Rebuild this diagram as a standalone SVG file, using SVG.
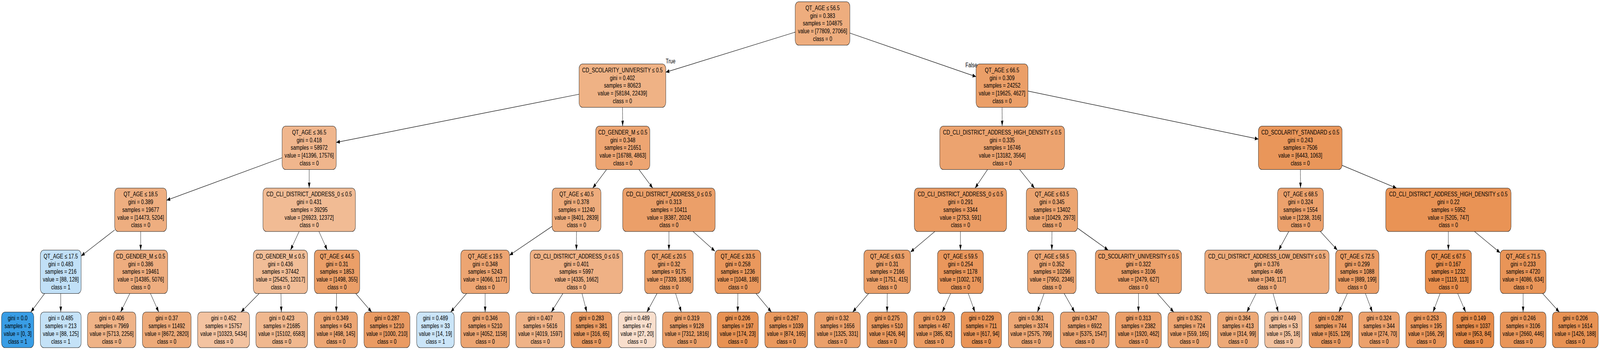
<svg xmlns="http://www.w3.org/2000/svg" width="6347" height="895" viewBox="0 0 6347 895" preserveAspectRatio="none">
<defs>
<style>
svg{width:100vw;height:100vh;display:block}
.n rect{stroke:#1a1a1a;stroke-width:1.2}
.n text,.lbl{font-family:"Liberation Sans",Arial,Helvetica,sans-serif;font-size:16.8px;fill:#000;text-anchor:middle}
#edges line{stroke:#000;stroke-width:1.2;fill:none;marker-end:url(#ah)}
</style>
<marker id="ah" markerUnits="userSpaceOnUse" markerWidth="16" markerHeight="12" refX="14" refY="5" orient="auto"><path d="M0,0 L14,5 L0,10 z" fill="#000"/></marker>
</defs>
<rect x="0" y="0" width="6347" height="895" fill="#fff"/>
<g id="nodes">
<g id="n0" class="n" transform="translate(3263,4.5)"><rect x="-108.5" y="0" width="217" height="111" rx="14" ry="12" fill="#eead7e"/><text transform="scale(1.14 1)"><tspan x="0" y="21.5">QT_AGE ≤ 56.5</tspan><tspan x="0" y="41.2">gini = 0.383</tspan><tspan x="0" y="60.9">samples = 104875</tspan><tspan x="0" y="80.6">value = [77809, 27066]</tspan><tspan x="0" y="100.3">class = 0</tspan></text></g>
<g id="n1" class="n" transform="translate(2469,163.5)"><rect x="-172" y="0" width="344" height="111" rx="14" ry="12" fill="#efb285"/><text transform="scale(1.14 1)"><tspan x="0" y="21.5">CD_SCOLARITY_UNIVERSITY ≤ 0.5</tspan><tspan x="0" y="41.2">gini = 0.402</tspan><tspan x="0" y="60.9">samples = 80623</tspan><tspan x="0" y="80.6">value = [58184, 22439]</tspan><tspan x="0" y="100.3">class = 0</tspan></text></g>
<g id="n2" class="n" transform="translate(3975,163.5)"><rect x="-103" y="0" width="206" height="111" rx="14" ry="12" fill="#eb9f68"/><text transform="scale(1.14 1)"><tspan x="0" y="21.5">QT_AGE ≤ 66.5</tspan><tspan x="0" y="41.2">gini = 0.309</tspan><tspan x="0" y="60.9">samples = 24252</tspan><tspan x="0" y="80.6">value = [19625, 4627]</tspan><tspan x="0" y="100.3">class = 0</tspan></text></g>
<g id="n3" class="n" transform="translate(1226.5,322.5)"><rect x="-107.5" y="0" width="215" height="111" rx="14" ry="12" fill="#f0b68d"/><text transform="scale(1.14 1)"><tspan x="0" y="21.5">QT_AGE ≤ 36.5</tspan><tspan x="0" y="41.2">gini = 0.418</tspan><tspan x="0" y="60.9">samples = 58972</tspan><tspan x="0" y="80.6">value = [41396, 17576]</tspan><tspan x="0" y="100.3">class = 0</tspan></text></g>
<g id="n4" class="n" transform="translate(2470.5,322.5)"><rect x="-107.5" y="0" width="215" height="111" rx="14" ry="12" fill="#eda572"/><text transform="scale(1.14 1)"><tspan x="0" y="21.5">CD_GENDER_M ≤ 0.5</tspan><tspan x="0" y="41.2">gini = 0.348</tspan><tspan x="0" y="60.9">samples = 21651</tspan><tspan x="0" y="80.6">value = [16788, 4863]</tspan><tspan x="0" y="100.3">class = 0</tspan></text></g>
<g id="n5" class="n" transform="translate(3975.5,322.5)"><rect x="-247.5" y="0" width="495" height="111" rx="14" ry="12" fill="#eca36f"/><text transform="scale(1.14 1)"><tspan x="0" y="21.5">CD_CLI_DISTRICT_ADDRESS_HIGH_DENSITY ≤ 0.5</tspan><tspan x="0" y="41.2">gini = 0.335</tspan><tspan x="0" y="60.9">samples = 16746</tspan><tspan x="0" y="80.6">value = [13182, 3564]</tspan><tspan x="0" y="100.3">class = 0</tspan></text></g>
<g id="n6" class="n" transform="translate(5158,322.5)"><rect x="-166" y="0" width="332" height="111" rx="14" ry="12" fill="#e9965a"/><text transform="scale(1.14 1)"><tspan x="0" y="21.5">CD_SCOLARITY_STANDARD ≤ 0.5</tspan><tspan x="0" y="41.2">gini = 0.243</tspan><tspan x="0" y="60.9">samples = 7506</tspan><tspan x="0" y="80.6">value = [6443, 1063]</tspan><tspan x="0" y="100.3">class = 0</tspan></text></g>
<g id="n7" class="n" transform="translate(558,481)"><rect x="-103" y="0" width="206" height="111" rx="14" ry="12" fill="#eeae80"/><text transform="scale(1.14 1)"><tspan x="0" y="21.5">QT_AGE ≤ 18.5</tspan><tspan x="0" y="41.2">gini = 0.389</tspan><tspan x="0" y="60.9">samples = 19677</tspan><tspan x="0" y="80.6">value = [14473, 5204]</tspan><tspan x="0" y="100.3">class = 0</tspan></text></g>
<g id="n8" class="n" transform="translate(1226.5,481)"><rect x="-183.5" y="0" width="367" height="111" rx="14" ry="12" fill="#f1bb94"/><text transform="scale(1.14 1)"><tspan x="0" y="21.5">CD_CLI_DISTRICT_ADDRESS_0 ≤ 0.5</tspan><tspan x="0" y="41.2">gini = 0.431</tspan><tspan x="0" y="60.9">samples = 39295</tspan><tspan x="0" y="80.6">value = [26923, 12372]</tspan><tspan x="0" y="100.3">class = 0</tspan></text></g>
<g id="n9" class="n" transform="translate(2287,481)"><rect x="-97" y="0" width="194" height="111" rx="14" ry="12" fill="#eeac7c"/><text transform="scale(1.14 1)"><tspan x="0" y="21.5">QT_AGE ≤ 40.5</tspan><tspan x="0" y="41.2">gini = 0.378</tspan><tspan x="0" y="60.9">samples = 11240</tspan><tspan x="0" y="80.6">value = [8401, 2839]</tspan><tspan x="0" y="100.3">class = 0</tspan></text></g>
<g id="n10" class="n" transform="translate(2653.5,481)"><rect x="-183.5" y="0" width="367" height="111" rx="14" ry="12" fill="#eb9f69"/><text transform="scale(1.14 1)"><tspan x="0" y="21.5">CD_CLI_DISTRICT_ADDRESS_0 ≤ 0.5</tspan><tspan x="0" y="41.2">gini = 0.313</tspan><tspan x="0" y="60.9">samples = 10411</tspan><tspan x="0" y="80.6">value = [8387, 2024]</tspan><tspan x="0" y="100.3">class = 0</tspan></text></g>
<g id="n11" class="n" transform="translate(3810,481)"><rect x="-183" y="0" width="366" height="111" rx="14" ry="12" fill="#eb9c64"/><text transform="scale(1.14 1)"><tspan x="0" y="21.5">CD_CLI_DISTRICT_ADDRESS_0 ≤ 0.5</tspan><tspan x="0" y="41.2">gini = 0.291</tspan><tspan x="0" y="60.9">samples = 3344</tspan><tspan x="0" y="80.6">value = [2753, 591]</tspan><tspan x="0" y="100.3">class = 0</tspan></text></g>
<g id="n12" class="n" transform="translate(4173,481)"><rect x="-102" y="0" width="204" height="111" rx="14" ry="12" fill="#eca571"/><text transform="scale(1.14 1)"><tspan x="0" y="21.5">QT_AGE ≤ 63.5</tspan><tspan x="0" y="41.2">gini = 0.345</tspan><tspan x="0" y="60.9">samples = 13402</tspan><tspan x="0" y="80.6">value = [10429, 2973]</tspan><tspan x="0" y="100.3">class = 0</tspan></text></g>
<g id="n13" class="n" transform="translate(5159,481)"><rect x="-91" y="0" width="182" height="111" rx="14" ry="12" fill="#eca16c"/><text transform="scale(1.14 1)"><tspan x="0" y="21.5">QT_AGE ≤ 68.5</tspan><tspan x="0" y="41.2">gini = 0.324</tspan><tspan x="0" y="60.9">samples = 1554</tspan><tspan x="0" y="80.6">value = [1238, 316]</tspan><tspan x="0" y="100.3">class = 0</tspan></text></g>
<g id="n14" class="n" transform="translate(5745.5,481)"><rect x="-248.5" y="0" width="497" height="111" rx="14" ry="12" fill="#e99355"/><text transform="scale(1.14 1)"><tspan x="0" y="21.5">CD_CLI_DISTRICT_ADDRESS_HIGH_DENSITY ≤ 0.5</tspan><tspan x="0" y="41.2">gini = 0.22</tspan><tspan x="0" y="60.9">samples = 5952</tspan><tspan x="0" y="80.6">value = [5205, 747]</tspan><tspan x="0" y="100.3">class = 0</tspan></text></g>
<g id="n15" class="n" transform="translate(241,639.5)"><rect x="-81" y="0" width="162" height="111" rx="14" ry="12" fill="#c1e0f7"/><text transform="scale(1.14 1)"><tspan x="0" y="21.5">QT_AGE ≤ 17.5</tspan><tspan x="0" y="41.2">gini = 0.483</tspan><tspan x="0" y="60.9">samples = 216</tspan><tspan x="0" y="80.6">value = [88, 128]</tspan><tspan x="0" y="100.3">class = 1</tspan></text></g>
<g id="n16" class="n" transform="translate(558,639.5)"><rect x="-107" y="0" width="214" height="111" rx="14" ry="12" fill="#eead7f"/><text transform="scale(1.14 1)"><tspan x="0" y="21.5">CD_GENDER_M ≤ 0.5</tspan><tspan x="0" y="41.2">gini = 0.386</tspan><tspan x="0" y="60.9">samples = 19461</tspan><tspan x="0" y="80.6">value = [14385, 5076]</tspan><tspan x="0" y="100.3">class = 0</tspan></text></g>
<g id="n17" class="n" transform="translate(1112.5,639.5)"><rect x="-107.5" y="0" width="215" height="111" rx="14" ry="12" fill="#f1bd97"/><text transform="scale(1.14 1)"><tspan x="0" y="21.5">CD_GENDER_M ≤ 0.5</tspan><tspan x="0" y="41.2">gini = 0.436</tspan><tspan x="0" y="60.9">samples = 37442</tspan><tspan x="0" y="80.6">value = [25425, 12017]</tspan><tspan x="0" y="100.3">class = 0</tspan></text></g>
<g id="n18" class="n" transform="translate(1337,639.5)"><rect x="-90" y="0" width="180" height="111" rx="14" ry="12" fill="#eb9f68"/><text transform="scale(1.14 1)"><tspan x="0" y="21.5">QT_AGE ≤ 44.5</tspan><tspan x="0" y="41.2">gini = 0.31</tspan><tspan x="0" y="60.9">samples = 1853</tspan><tspan x="0" y="80.6">value = [1498, 355]</tspan><tspan x="0" y="100.3">class = 0</tspan></text></g>
<g id="n19" class="n" transform="translate(1924.5,639.5)"><rect x="-96.5" y="0" width="193" height="111" rx="14" ry="12" fill="#eda572"/><text transform="scale(1.14 1)"><tspan x="0" y="21.5">QT_AGE ≤ 19.5</tspan><tspan x="0" y="41.2">gini = 0.348</tspan><tspan x="0" y="60.9">samples = 5243</tspan><tspan x="0" y="80.6">value = [4066, 1177]</tspan><tspan x="0" y="100.3">class = 0</tspan></text></g>
<g id="n20" class="n" transform="translate(2286.5,639.5)"><rect x="-183.5" y="0" width="367" height="111" rx="14" ry="12" fill="#efb185"/><text transform="scale(1.14 1)"><tspan x="0" y="21.5">CD_CLI_DISTRICT_ADDRESS_0 ≤ 0.5</tspan><tspan x="0" y="41.2">gini = 0.401</tspan><tspan x="0" y="60.9">samples = 5997</tspan><tspan x="0" y="80.6">value = [4335, 1662]</tspan><tspan x="0" y="100.3">class = 0</tspan></text></g>
<g id="n21" class="n" transform="translate(2653.5,639.5)"><rect x="-96.5" y="0" width="193" height="111" rx="14" ry="12" fill="#eca16b"/><text transform="scale(1.14 1)"><tspan x="0" y="21.5">QT_AGE ≤ 20.5</tspan><tspan x="0" y="41.2">gini = 0.32</tspan><tspan x="0" y="60.9">samples = 9175</tspan><tspan x="0" y="80.6">value = [7339, 1836]</tspan><tspan x="0" y="100.3">class = 0</tspan></text></g>
<g id="n22" class="n" transform="translate(2927,639.5)"><rect x="-91" y="0" width="182" height="111" rx="14" ry="12" fill="#ea985d"/><text transform="scale(1.14 1)"><tspan x="0" y="21.5">QT_AGE ≤ 33.5</tspan><tspan x="0" y="41.2">gini = 0.258</tspan><tspan x="0" y="60.9">samples = 1236</tspan><tspan x="0" y="80.6">value = [1048, 188]</tspan><tspan x="0" y="100.3">class = 0</tspan></text></g>
<g id="n23" class="n" transform="translate(3519.5,639.5)"><rect x="-92.5" y="0" width="185" height="111" rx="14" ry="12" fill="#eb9f68"/><text transform="scale(1.14 1)"><tspan x="0" y="21.5">QT_AGE ≤ 63.5</tspan><tspan x="0" y="41.2">gini = 0.31</tspan><tspan x="0" y="60.9">samples = 2166</tspan><tspan x="0" y="80.6">value = [1751, 415]</tspan><tspan x="0" y="100.3">class = 0</tspan></text></g>
<g id="n24" class="n" transform="translate(3810,639.5)"><rect x="-91" y="0" width="182" height="111" rx="14" ry="12" fill="#ea975c"/><text transform="scale(1.14 1)"><tspan x="0" y="21.5">QT_AGE ≤ 59.5</tspan><tspan x="0" y="41.2">gini = 0.254</tspan><tspan x="0" y="60.9">samples = 1178</tspan><tspan x="0" y="80.6">value = [1002, 176]</tspan><tspan x="0" y="100.3">class = 0</tspan></text></g>
<g id="n25" class="n" transform="translate(4172.5,639.5)"><rect x="-96.5" y="0" width="193" height="111" rx="14" ry="12" fill="#eda673"/><text transform="scale(1.14 1)"><tspan x="0" y="21.5">QT_AGE ≤ 58.5</tspan><tspan x="0" y="41.2">gini = 0.352</tspan><tspan x="0" y="60.9">samples = 10296</tspan><tspan x="0" y="80.6">value = [7950, 2346]</tspan><tspan x="0" y="100.3">class = 0</tspan></text></g>
<g id="n26" class="n" transform="translate(4516,639.5)"><rect x="-171" y="0" width="342" height="111" rx="14" ry="12" fill="#eca16b"/><text transform="scale(1.14 1)"><tspan x="0" y="21.5">CD_SCOLARITY_UNIVERSITY ≤ 0.5</tspan><tspan x="0" y="41.2">gini = 0.322</tspan><tspan x="0" y="60.9">samples = 3106</tspan><tspan x="0" y="80.6">value = [2479, 627]</tspan><tspan x="0" y="100.3">class = 0</tspan></text></g>
<g id="n27" class="n" transform="translate(5025.5,639.5)"><rect x="-246.5" y="0" width="493" height="111" rx="14" ry="12" fill="#eeab7b"/><text transform="scale(1.14 1)"><tspan x="0" y="21.5">CD_CLI_DISTRICT_ADDRESS_LOW_DENSITY ≤ 0.5</tspan><tspan x="0" y="41.2">gini = 0.376</tspan><tspan x="0" y="60.9">samples = 466</tspan><tspan x="0" y="80.6">value = [349, 117]</tspan><tspan x="0" y="100.3">class = 0</tspan></text></g>
<g id="n28" class="n" transform="translate(5384,639.5)"><rect x="-86" y="0" width="172" height="111" rx="14" ry="12" fill="#eb9d65"/><text transform="scale(1.14 1)"><tspan x="0" y="21.5">QT_AGE ≤ 72.5</tspan><tspan x="0" y="41.2">gini = 0.299</tspan><tspan x="0" y="60.9">samples = 1088</tspan><tspan x="0" y="80.6">value = [889, 199]</tspan><tspan x="0" y="100.3">class = 0</tspan></text></g>
<g id="n29" class="n" transform="translate(5745.5,639.5)"><rect x="-91.5" y="0" width="183" height="111" rx="14" ry="12" fill="#e88e4d"/><text transform="scale(1.14 1)"><tspan x="0" y="21.5">QT_AGE ≤ 67.5</tspan><tspan x="0" y="41.2">gini = 0.167</tspan><tspan x="0" y="60.9">samples = 1232</tspan><tspan x="0" y="80.6">value = [1119, 113]</tspan><tspan x="0" y="100.3">class = 0</tspan></text></g>
<g id="n30" class="n" transform="translate(6042,639.5)"><rect x="-91" y="0" width="182" height="111" rx="14" ry="12" fill="#e99558"/><text transform="scale(1.14 1)"><tspan x="0" y="21.5">QT_AGE ≤ 71.5</tspan><tspan x="0" y="41.2">gini = 0.233</tspan><tspan x="0" y="60.9">samples = 4720</tspan><tspan x="0" y="80.6">value = [4086, 634]</tspan><tspan x="0" y="100.3">class = 0</tspan></text></g>
<g id="n31" class="n" transform="translate(70,798)"><rect x="-64" y="0" width="128" height="91" rx="14" ry="12" fill="#399de5"/><text transform="scale(1.14 1)"><tspan x="0" y="21.5">gini = 0.0</tspan><tspan x="0" y="41.2">samples = 3</tspan><tspan x="0" y="60.9">value = [0, 3]</tspan><tspan x="0" y="80.6">class = 1</tspan></text></g>
<g id="n32" class="n" transform="translate(241,798)"><rect x="-81" y="0" width="162" height="91" rx="14" ry="12" fill="#c4e2f7"/><text transform="scale(1.14 1)"><tspan x="0" y="21.5">gini = 0.485</tspan><tspan x="0" y="41.2">samples = 213</tspan><tspan x="0" y="60.9">value = [88, 125]</tspan><tspan x="0" y="80.6">class = 1</tspan></text></g>
<g id="n33" class="n" transform="translate(443,798)"><rect x="-96" y="0" width="192" height="91" rx="14" ry="12" fill="#efb387"/><text transform="scale(1.14 1)"><tspan x="0" y="21.5">gini = 0.406</tspan><tspan x="0" y="41.2">samples = 7969</tspan><tspan x="0" y="60.9">value = [5713, 2256]</tspan><tspan x="0" y="80.6">class = 0</tspan></text></g>
<g id="n34" class="n" transform="translate(661.5,798)"><rect x="-96.5" y="0" width="193" height="91" rx="14" ry="12" fill="#edaa79"/><text transform="scale(1.14 1)"><tspan x="0" y="21.5">gini = 0.37</tspan><tspan x="0" y="41.2">samples = 11492</tspan><tspan x="0" y="60.9">value = [8672, 2820]</tspan><tspan x="0" y="80.6">class = 0</tspan></text></g>
<g id="n35" class="n" transform="translate(887,798)"><rect x="-103" y="0" width="206" height="91" rx="14" ry="12" fill="#f3c3a1"/><text transform="scale(1.14 1)"><tspan x="0" y="21.5">gini = 0.452</tspan><tspan x="0" y="41.2">samples = 15757</tspan><tspan x="0" y="60.9">value = [10323, 5434]</tspan><tspan x="0" y="80.6">class = 0</tspan></text></g>
<g id="n36" class="n" transform="translate(1117.5,798)"><rect x="-102.5" y="0" width="205" height="91" rx="14" ry="12" fill="#f0b88f"/><text transform="scale(1.14 1)"><tspan x="0" y="21.5">gini = 0.423</tspan><tspan x="0" y="41.2">samples = 21685</tspan><tspan x="0" y="60.9">value = [15102, 6583]</tspan><tspan x="0" y="80.6">class = 0</tspan></text></g>
<g id="n37" class="n" transform="translate(1332.5,798)"><rect x="-85.5" y="0" width="171" height="91" rx="14" ry="12" fill="#eda673"/><text transform="scale(1.14 1)"><tspan x="0" y="21.5">gini = 0.349</tspan><tspan x="0" y="41.2">samples = 643</tspan><tspan x="0" y="60.9">value = [498, 145]</tspan><tspan x="0" y="80.6">class = 0</tspan></text></g>
<g id="n38" class="n" transform="translate(1535,798)"><rect x="-91" y="0" width="182" height="91" rx="14" ry="12" fill="#ea9b63"/><text transform="scale(1.14 1)"><tspan x="0" y="21.5">gini = 0.287</tspan><tspan x="0" y="41.2">samples = 1210</tspan><tspan x="0" y="60.9">value = [1000, 210]</tspan><tspan x="0" y="80.6">class = 0</tspan></text></g>
<g id="n39" class="n" transform="translate(1727.5,798)"><rect x="-74.5" y="0" width="149" height="91" rx="14" ry="12" fill="#cbe5f8"/><text transform="scale(1.14 1)"><tspan x="0" y="21.5">gini = 0.489</tspan><tspan x="0" y="41.2">samples = 33</tspan><tspan x="0" y="60.9">value = [14, 19]</tspan><tspan x="0" y="80.6">class = 1</tspan></text></g>
<g id="n40" class="n" transform="translate(1924.5,798)"><rect x="-96.5" y="0" width="193" height="91" rx="14" ry="12" fill="#eca572"/><text transform="scale(1.14 1)"><tspan x="0" y="21.5">gini = 0.346</tspan><tspan x="0" y="41.2">samples = 5210</tspan><tspan x="0" y="60.9">value = [4052, 1158]</tspan><tspan x="0" y="80.6">class = 0</tspan></text></g>
<g id="n41" class="n" transform="translate(2143,798)"><rect x="-97" y="0" width="194" height="91" rx="14" ry="12" fill="#efb388"/><text transform="scale(1.14 1)"><tspan x="0" y="21.5">gini = 0.407</tspan><tspan x="0" y="41.2">samples = 5616</tspan><tspan x="0" y="60.9">value = [4019, 1597]</tspan><tspan x="0" y="80.6">class = 0</tspan></text></g>
<g id="n42" class="n" transform="translate(2346,798)"><rect x="-81" y="0" width="162" height="91" rx="14" ry="12" fill="#ea9b62"/><text transform="scale(1.14 1)"><tspan x="0" y="21.5">gini = 0.283</tspan><tspan x="0" y="41.2">samples = 381</tspan><tspan x="0" y="60.9">value = [316, 65]</tspan><tspan x="0" y="80.6">class = 0</tspan></text></g>
<g id="n43" class="n" transform="translate(2527.5,798)"><rect x="-74.5" y="0" width="149" height="91" rx="14" ry="12" fill="#f8decc"/><text transform="scale(1.14 1)"><tspan x="0" y="21.5">gini = 0.489</tspan><tspan x="0" y="41.2">samples = 47</tspan><tspan x="0" y="60.9">value = [27, 20]</tspan><tspan x="0" y="80.6">class = 0</tspan></text></g>
<g id="n44" class="n" transform="translate(2724.5,798)"><rect x="-96.5" y="0" width="193" height="91" rx="14" ry="12" fill="#eba06a"/><text transform="scale(1.14 1)"><tspan x="0" y="21.5">gini = 0.319</tspan><tspan x="0" y="41.2">samples = 9128</tspan><tspan x="0" y="60.9">value = [7312, 1816]</tspan><tspan x="0" y="80.6">class = 0</tspan></text></g>
<g id="n45" class="n" transform="translate(2926.5,798)"><rect x="-81.5" y="0" width="163" height="91" rx="14" ry="12" fill="#e89253"/><text transform="scale(1.14 1)"><tspan x="0" y="21.5">gini = 0.206</tspan><tspan x="0" y="41.2">samples = 197</tspan><tspan x="0" y="60.9">value = [174, 23]</tspan><tspan x="0" y="80.6">class = 0</tspan></text></g>
<g id="n46" class="n" transform="translate(3119,798)"><rect x="-85" y="0" width="170" height="91" rx="14" ry="12" fill="#ea995e"/><text transform="scale(1.14 1)"><tspan x="0" y="21.5">gini = 0.267</tspan><tspan x="0" y="41.2">samples = 1039</tspan><tspan x="0" y="60.9">value = [874, 165]</tspan><tspan x="0" y="80.6">class = 0</tspan></text></g>
<g id="n47" class="n" transform="translate(3322,798)"><rect x="-91" y="0" width="182" height="91" rx="14" ry="12" fill="#eba06a"/><text transform="scale(1.14 1)"><tspan x="0" y="21.5">gini = 0.32</tspan><tspan x="0" y="41.2">samples = 1656</tspan><tspan x="0" y="60.9">value = [1325, 331]</tspan><tspan x="0" y="80.6">class = 0</tspan></text></g>
<g id="n48" class="n" transform="translate(3519,798)"><rect x="-80" y="0" width="160" height="91" rx="14" ry="12" fill="#ea9a60"/><text transform="scale(1.14 1)"><tspan x="0" y="21.5">gini = 0.275</tspan><tspan x="0" y="41.2">samples = 510</tspan><tspan x="0" y="60.9">value = [426, 84]</tspan><tspan x="0" y="80.6">class = 0</tspan></text></g>
<g id="n49" class="n" transform="translate(3706,798)"><rect x="-81" y="0" width="162" height="91" rx="14" ry="12" fill="#eb9c63"/><text transform="scale(1.14 1)"><tspan x="0" y="21.5">gini = 0.29</tspan><tspan x="0" y="41.2">samples = 467</tspan><tspan x="0" y="60.9">value = [385, 82]</tspan><tspan x="0" y="80.6">class = 0</tspan></text></g>
<g id="n50" class="n" transform="translate(3893,798)"><rect x="-80" y="0" width="160" height="91" rx="14" ry="12" fill="#e99457"/><text transform="scale(1.14 1)"><tspan x="0" y="21.5">gini = 0.229</tspan><tspan x="0" y="41.2">samples = 711</tspan><tspan x="0" y="60.9">value = [617, 94]</tspan><tspan x="0" y="80.6">class = 0</tspan></text></g>
<g id="n51" class="n" transform="translate(4090,798)"><rect x="-90" y="0" width="180" height="91" rx="14" ry="12" fill="#eda876"/><text transform="scale(1.14 1)"><tspan x="0" y="21.5">gini = 0.361</tspan><tspan x="0" y="41.2">samples = 3374</tspan><tspan x="0" y="60.9">value = [2575, 799]</tspan><tspan x="0" y="80.6">class = 0</tspan></text></g>
<g id="n52" class="n" transform="translate(4303,798)"><rect x="-97" y="0" width="194" height="91" rx="14" ry="12" fill="#eca572"/><text transform="scale(1.14 1)"><tspan x="0" y="21.5">gini = 0.347</tspan><tspan x="0" y="41.2">samples = 6922</tspan><tspan x="0" y="60.9">value = [5375, 1547]</tspan><tspan x="0" y="80.6">class = 0</tspan></text></g>
<g id="n53" class="n" transform="translate(4516,798)"><rect x="-91" y="0" width="182" height="91" rx="14" ry="12" fill="#eb9f69"/><text transform="scale(1.14 1)"><tspan x="0" y="21.5">gini = 0.313</tspan><tspan x="0" y="41.2">samples = 2382</tspan><tspan x="0" y="60.9">value = [1920, 462]</tspan><tspan x="0" y="80.6">class = 0</tspan></text></g>
<g id="n54" class="n" transform="translate(4718,798)"><rect x="-85" y="0" width="170" height="91" rx="14" ry="12" fill="#eda673"/><text transform="scale(1.14 1)"><tspan x="0" y="21.5">gini = 0.352</tspan><tspan x="0" y="41.2">samples = 724</tspan><tspan x="0" y="60.9">value = [559, 165]</tspan><tspan x="0" y="80.6">class = 0</tspan></text></g>
<g id="n55" class="n" transform="translate(4911,798)"><rect x="-81" y="0" width="162" height="91" rx="14" ry="12" fill="#eda977"/><text transform="scale(1.14 1)"><tspan x="0" y="21.5">gini = 0.364</tspan><tspan x="0" y="41.2">samples = 413</tspan><tspan x="0" y="60.9">value = [314, 99]</tspan><tspan x="0" y="80.6">class = 0</tspan></text></g>
<g id="n56" class="n" transform="translate(5091,798)"><rect x="-74" y="0" width="148" height="91" rx="14" ry="12" fill="#f2c29f"/><text transform="scale(1.14 1)"><tspan x="0" y="21.5">gini = 0.449</tspan><tspan x="0" y="41.2">samples = 53</tspan><tspan x="0" y="60.9">value = [35, 18]</tspan><tspan x="0" y="80.6">class = 0</tspan></text></g>
<g id="n57" class="n" transform="translate(5279,798)"><rect x="-86" y="0" width="172" height="91" rx="14" ry="12" fill="#ea9b63"/><text transform="scale(1.14 1)"><tspan x="0" y="21.5">gini = 0.287</tspan><tspan x="0" y="41.2">samples = 744</tspan><tspan x="0" y="60.9">value = [615, 129]</tspan><tspan x="0" y="80.6">class = 0</tspan></text></g>
<g id="n58" class="n" transform="translate(5470.5,798)"><rect x="-80.5" y="0" width="161" height="91" rx="14" ry="12" fill="#eca16c"/><text transform="scale(1.14 1)"><tspan x="0" y="21.5">gini = 0.324</tspan><tspan x="0" y="41.2">samples = 344</tspan><tspan x="0" y="60.9">value = [274, 70]</tspan><tspan x="0" y="80.6">class = 0</tspan></text></g>
<g id="n59" class="n" transform="translate(5657.5,798)"><rect x="-80.5" y="0" width="161" height="91" rx="14" ry="12" fill="#ea975c"/><text transform="scale(1.14 1)"><tspan x="0" y="21.5">gini = 0.253</tspan><tspan x="0" y="41.2">samples = 195</tspan><tspan x="0" y="60.9">value = [166, 29]</tspan><tspan x="0" y="80.6">class = 0</tspan></text></g>
<g id="n60" class="n" transform="translate(5844.5,798)"><rect x="-81.5" y="0" width="163" height="91" rx="14" ry="12" fill="#e78c4a"/><text transform="scale(1.14 1)"><tspan x="0" y="21.5">gini = 0.149</tspan><tspan x="0" y="41.2">samples = 1037</tspan><tspan x="0" y="60.9">value = [953, 84]</tspan><tspan x="0" y="80.6">class = 0</tspan></text></g>
<g id="n61" class="n" transform="translate(6042,798)"><rect x="-91" y="0" width="182" height="91" rx="14" ry="12" fill="#e9965a"/><text transform="scale(1.14 1)"><tspan x="0" y="21.5">gini = 0.246</tspan><tspan x="0" y="41.2">samples = 3106</tspan><tspan x="0" y="60.9">value = [2660, 446]</tspan><tspan x="0" y="80.6">class = 0</tspan></text></g>
<g id="n62" class="n" transform="translate(6249,798)"><rect x="-91" y="0" width="182" height="91" rx="14" ry="12" fill="#e89253"/><text transform="scale(1.14 1)"><tspan x="0" y="21.5">gini = 0.206</tspan><tspan x="0" y="41.2">samples = 1614</tspan><tspan x="0" y="60.9">value = [1426, 188]</tspan><tspan x="0" y="80.6">class = 0</tspan></text></g>
</g>
<g id="edges">
<line x1="3155" y1="82.1" x2="2641" y2="184.7"/>
<line x1="3371" y1="84.5" x2="3872" y2="196.1"/>
<line x1="2297" y1="241" x2="1334" y2="364.2"/>
<line x1="2469.5" y1="274.5" x2="2470" y2="322.5"/>
<line x1="3975" y1="274.5" x2="3975.5" y2="322.5"/>
<line x1="4078" y1="232.8" x2="4992" y2="355.7"/>
<line x1="1119" y1="403.5" x2="661" y2="512.1"/>
<line x1="1226.5" y1="433.5" x2="1226.5" y2="481"/>
<line x1="2406.2" y1="433.5" x2="2351.3" y2="481"/>
<line x1="2534.6" y1="433.5" x2="2589.4" y2="481"/>
<line x1="3917.5" y1="433.5" x2="3868" y2="481"/>
<line x1="4044.7" y1="433.5" x2="4103.8" y2="481"/>
<line x1="5158.5" y1="433.5" x2="5159" y2="481"/>
<line x1="5324" y1="422.8" x2="5539.8" y2="481"/>
<line x1="455" y1="588" x2="322" y2="654.5"/>
<line x1="558" y1="592" x2="558" y2="639.5"/>
<line x1="1186.6" y1="592" x2="1152.4" y2="639.5"/>
<line x1="1265.2" y1="592" x2="1298.3" y2="639.5"/>
<line x1="2190" y1="578.9" x2="2021" y2="652.8"/>
<line x1="2287" y1="592" x2="2286.5" y2="639.5"/>
<line x1="2653.5" y1="592" x2="2653.5" y2="639.5"/>
<line x1="2749.3" y1="592" x2="2836" y2="642.3"/>
<line x1="3708.3" y1="592" x2="3612" y2="644.5"/>
<line x1="3810" y1="592" x2="3810" y2="639.5"/>
<line x1="4173" y1="592" x2="4172.5" y2="639.5"/>
<line x1="4275" y1="583.6" x2="4395.9" y2="639.5"/>
<line x1="5112.3" y1="592" x2="5072.3" y2="639.5"/>
<line x1="5237.8" y1="592" x2="5305.2" y2="639.5"/>
<line x1="5745.5" y1="592" x2="5745.5" y2="639.5"/>
<line x1="5849.3" y1="592" x2="5951" y2="646.4"/>
<line x1="177.1" y1="750.5" x2="122.4" y2="798"/>
<line x1="241" y1="750.5" x2="241" y2="798"/>
<line x1="515" y1="750.5" x2="478.2" y2="798"/>
<line x1="596.7" y1="750.5" x2="629.8" y2="798"/>
<line x1="1028.2" y1="750.5" x2="956.1" y2="798"/>
<line x1="1114.4" y1="750.5" x2="1116" y2="798"/>
<line x1="1335.3" y1="750.5" x2="1333.9" y2="798"/>
<line x1="1411" y1="750.5" x2="1474.3" y2="798"/>
<line x1="1850.9" y1="750.5" x2="1787.9" y2="798"/>
<line x1="1924.5" y1="750.5" x2="1924.5" y2="798"/>
<line x1="2232.9" y1="750.5" x2="2187" y2="798"/>
<line x1="2308.7" y1="750.5" x2="2327.8" y2="798"/>
<line x1="2606.4" y1="750.5" x2="2566.1" y2="798"/>
<line x1="2680" y1="750.5" x2="2702.8" y2="798"/>
<line x1="2927" y1="750.5" x2="2926.6" y2="798"/>
<line x1="2998.8" y1="750.5" x2="3060.2" y2="798"/>
<line x1="3445.7" y1="750.5" x2="3382.5" y2="798"/>
<line x1="3519.5" y1="750.5" x2="3519" y2="798"/>
<line x1="3771.1" y1="750.5" x2="3737.9" y2="798"/>
<line x1="3841" y1="750.5" x2="3867.6" y2="798"/>
<line x1="4141.7" y1="750.5" x2="4115.3" y2="798"/>
<line x1="4221.3" y1="750.5" x2="4263" y2="798"/>
<line x1="4516" y1="750.5" x2="4516" y2="798"/>
<line x1="4591.5" y1="750.5" x2="4656.1" y2="798"/>
<line x1="4982.7" y1="750.5" x2="4946.1" y2="798"/>
<line x1="5050" y1="750.5" x2="5070.9" y2="798"/>
<line x1="5344.8" y1="750.5" x2="5311.2" y2="798"/>
<line x1="5416.3" y1="750.5" x2="5444" y2="798"/>
<line x1="5712.6" y1="750.5" x2="5684.5" y2="798"/>
<line x1="5782.5" y1="750.5" x2="5814.2" y2="798"/>
<line x1="6042" y1="750.5" x2="6042" y2="798"/>
<line x1="6119.4" y1="750.5" x2="6185.6" y2="798"/>
<text class="lbl" transform="translate(2660,161.5) scale(1.14 1)">True</text>
<text class="lbl" transform="translate(3853,171.5) scale(1.14 1)">False</text>
</g>
</svg>
